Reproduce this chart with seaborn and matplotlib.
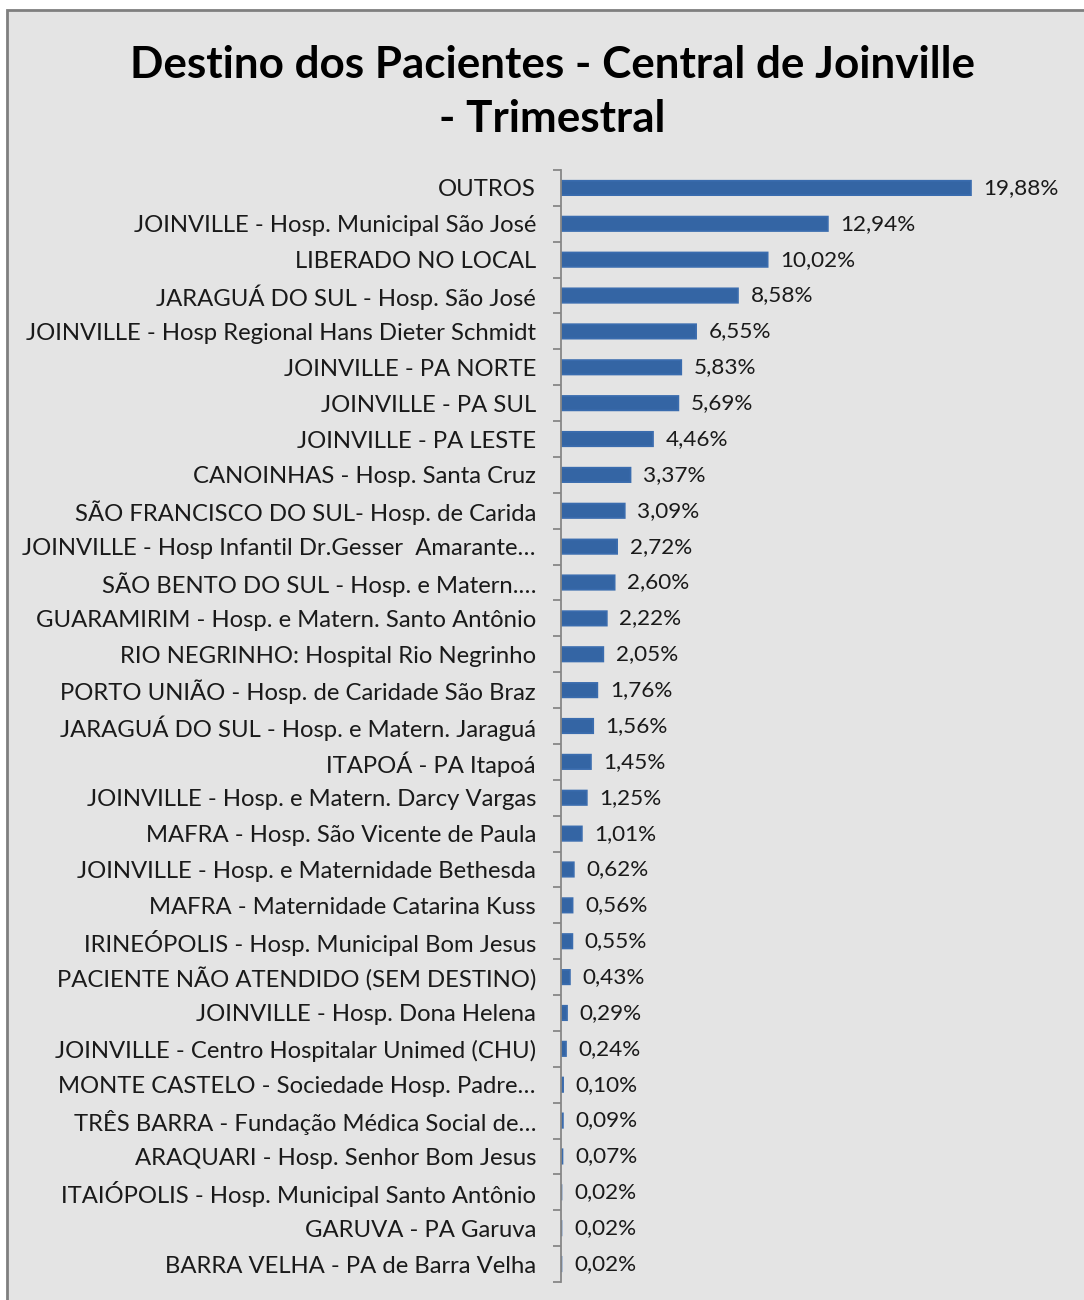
import matplotlib
matplotlib.use("Agg")
import matplotlib.pyplot as plt
import seaborn as sns
import pandas as pd
import numpy as np
from matplotlib.patches import Rectangle

categories = [
    "OUTROS",
    "JOINVILLE - Hosp. Municipal São José",
    "LIBERADO NO LOCAL",
    "JARAGUÁ DO SUL - Hosp. São José",
    "JOINVILLE - Hosp Regional Hans Dieter Schmidt",
    "JOINVILLE - PA NORTE",
    "JOINVILLE - PA SUL",
    "JOINVILLE - PA LESTE",
    "CANOINHAS - Hosp. Santa Cruz",
    "SÃO FRANCISCO DO SUL- Hosp. de Carida",
    "JOINVILLE - Hosp Infantil Dr.Gesser  Amarante…",
    "SÃO BENTO DO SUL - Hosp. e Matern.…",
    "GUARAMIRIM - Hosp. e Matern. Santo Antônio",
    "RIO NEGRINHO: Hospital Rio Negrinho",
    "PORTO UNIÃO - Hosp. de Caridade São Braz",
    "JARAGUÁ DO SUL - Hosp. e Matern. Jaraguá",
    "ITAPOÁ - PA Itapoá",
    "JOINVILLE - Hosp. e Matern. Darcy Vargas",
    "MAFRA - Hosp. São Vicente de Paula",
    "JOINVILLE - Hosp. e Maternidade Bethesda",
    "MAFRA - Maternidade Catarina Kuss",
    "IRINEÓPOLIS - Hosp. Municipal Bom Jesus",
    "PACIENTE NÃO ATENDIDO (SEM DESTINO)",
    "JOINVILLE - Hosp. Dona Helena",
    "JOINVILLE - Centro Hospitalar Unimed (CHU)",
    "MONTE CASTELO - Sociedade Hosp. Padre…",
    "TRÊS BARRA - Fundação Médica Social de…",
    "ARAQUARI - Hosp. Senhor Bom Jesus",
    "ITAIÓPOLIS - Hosp. Municipal Santo Antônio",
    "GARUVA - PA Garuva",
    "BARRA VELHA - PA de Barra Velha",
]
values = [19.88, 12.94, 10.02, 8.58, 6.55, 5.83, 5.69, 4.46, 3.37, 3.09,
          2.72, 2.60, 2.22, 2.05, 1.76, 1.56, 1.45, 1.25, 1.01, 0.62,
          0.56, 0.55, 0.43, 0.29, 0.24, 0.10, 0.09, 0.07, 0.02, 0.02, 0.02]
title = "Destino dos Pacientes - Central de Joinville\n- Trimestral"

sns.set_theme(style="white")
plt.rcParams["font.family"] = ["Lato", "DejaVu Sans"]

df = pd.DataFrame({"destino": categories, "pct": values})

fig = plt.figure(figsize=(10.84, 13.0), dpi=100)
fig.patch.set_facecolor("white")
# chart area frame
fig.patches.append(Rectangle((7 / 1084, -0.01), 1.02, 1 - 10 / 1300 + 0.01,
                             transform=fig.transFigure, facecolor="#E4E4E4",
                             edgecolor="#7F7F7F", linewidth=2, zorder=-5))

ax = fig.add_axes([561 / 1084, 1 - 1282 / 1300, 500 / 1084, (1282 - 170) / 1300])
ax.set_facecolor("none")
ax.set_zorder(2)
sns.barplot(data=df, x="pct", y="destino", orient="h", color="#3465A4",
            saturation=1, width=0.4, ax=ax, edgecolor="#3A6CAE", linewidth=1.3)
for bar in ax.containers[0]:
    bar.set_snap(False)
    bar.set_antialiased(True)

ax.set_xlim(0, 500 / 20.62)
n = len(categories)
ax.set_ylim(n - 0.5, -0.5)
ax.set_xlabel("")
ax.set_ylabel("")
ax.set_xticks([])
for s in ["top", "right", "bottom"]:
    ax.spines[s].set_visible(False)
ax.spines["left"].set_color("#868686")
ax.spines["left"].set_linewidth(1.3)

ax.set_yticks(np.arange(n))
ax.set_yticklabels(categories, fontsize=17.2, color="#1a1a1a")
ax.tick_params(axis="y", which="major", left=False, length=0, pad=18)
ax.set_yticks(np.arange(n + 1) - 0.5, minor=True)
ax.tick_params(axis="y", which="minor", left=True, length=6, width=1.3,
               color="#868686", direction="out")

labels = [f"{v:.2f}%".replace(".", ",") for v in values]
ax.bar_label(ax.containers[0], labels=labels, padding=9, fontsize=16.2,
             color="#1a1a1a")

fig.text(552 / 1084, 1 - 92 / 1300, title, ha="center", va="center",
         fontsize=31.7, fontweight="bold", color="black", linespacing=1.45,
         zorder=3)

fig.savefig("out.png", dpi=100, facecolor="white")
